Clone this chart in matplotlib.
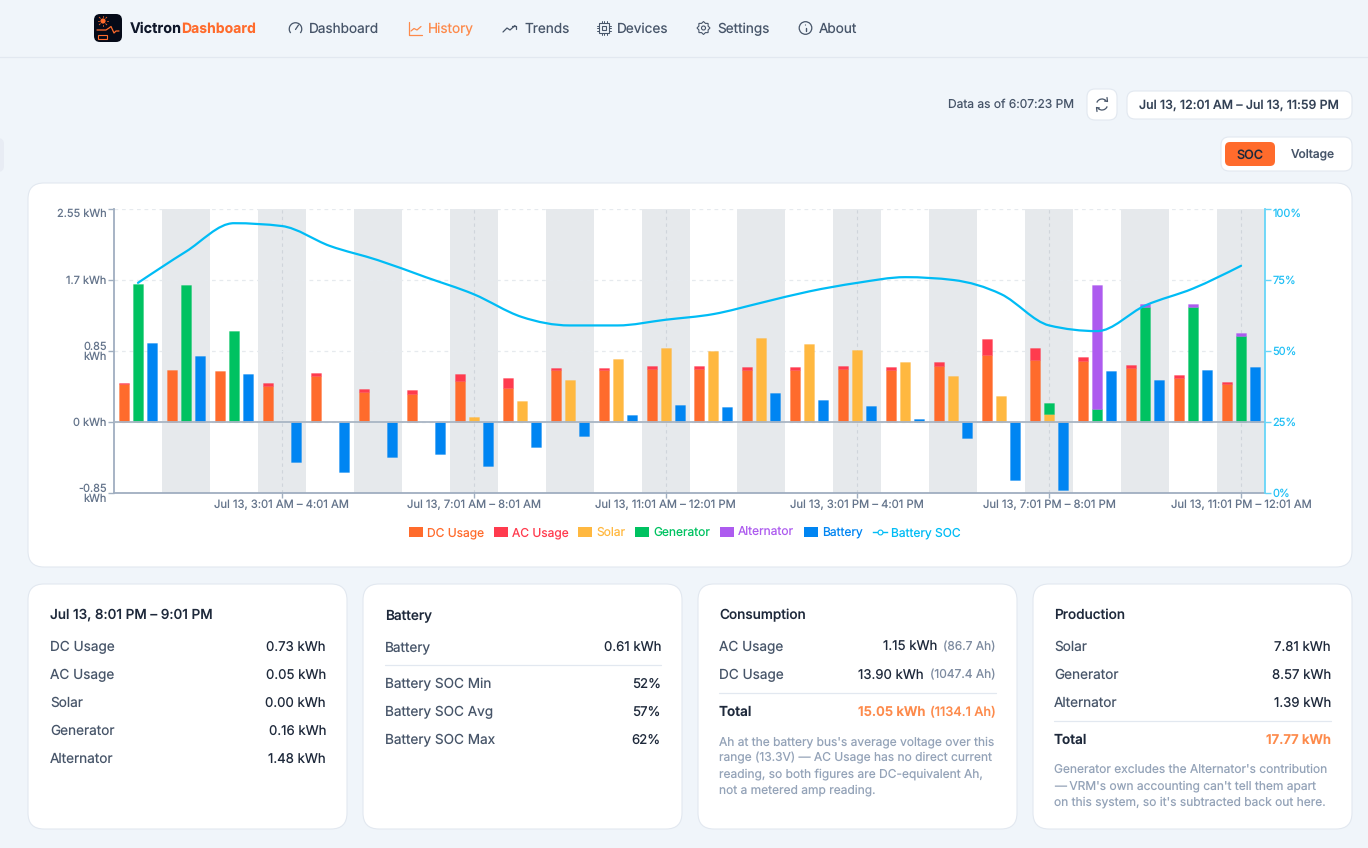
import numpy as np
import matplotlib
matplotlib.use("Agg")
import matplotlib.pyplot as plt
from matplotlib.patches import FancyBboxPatch, Circle, Rectangle, Arc, Patch, PathPatch, Polygon
from matplotlib.lines import Line2D
from matplotlib.path import Path

plt.rcParams['font.family'] = ['Inter', 'Noto Sans', 'DejaVu Sans']
plt.rcParams['text.hinting'] = 'no_hinting'

# data
hours = list(range(24))
dc_usage = [0.46, 0.62, 0.607, 0.427, 0.547, 0.36, 0.34, 0.487, 0.41, 0.62, 0.62, 0.638,
            0.638, 0.626, 0.626, 0.638, 0.626, 0.666, 0.806, 0.746, 0.73, 0.65, 0.53, 0.459]
ac_usage = [0.01, 0, 0, 0.04, 0.044, 0.04, 0.04, 0.084, 0.12, 0.03, 0.03, 0.03,
            0.03, 0.03, 0.03, 0.03, 0.03, 0.052, 0.19, 0.144, 0.05, 0.036, 0.028, 0.02]
solar = [0, 0, 0, 0, 0, 0, 0, 0.056, 0.255, 0.50, 0.758, 0.886,
         0.846, 1.006, 0.938, 0.858, 0.714, 0.547, 0.307, 0.096, 0, 0, 0, 0]
generator = [1.656, 1.636, 1.085, 0, 0, 0, 0, 0, 0, 0, 0, 0,
             0, 0, 0, 0, 0, 0, 0, 0.132, 0.16, 1.377, 1.377, 1.034]
alternator = [0, 0, 0, 0, 0, 0, 0, 0, 0, 0, 0, 0,
              0, 0, 0, 0, 0, 0, 0, 0, 1.48, 0.032, 0.032, 0.036]
battery = [0.94, 0.786, 0.58, -0.483, -0.60, -0.415, -0.383, -0.527, -0.303, -0.168, 0.088, 0.207,
           0.176, 0.347, 0.267, 0.188, 0.04, -0.196, -0.694, -0.814, 0.61, 0.507, 0.626, 0.654]
battery_soc = [74, 85, 95, 94, 87, 82, 76, 70, 62, 59, 59, 61,
               63, 67, 71, 74, 76, 75, 70, 59, 57, 66, 72, 80]

kwh_ticks = [-0.85, 0, 0.85, 1.7, 2.55]
kwh_labels = ["-0.85\nkWh", "0 kWh", "0.85\nkWh", "1.7 kWh", "2.55 kWh"]
soc_ticks = [0, 25, 50, 75, 100]
soc_labels = ["0%", "25%", "50%", "75%", "100%"]
hour_ticks = [3, 7, 11, 15, 19, 23]
hour_labels = ["Jul 13, 3:01 AM – 4:01 AM", "Jul 13, 7:01 AM – 8:01 AM", "Jul 13, 11:01 AM – 12:01 PM",
               "Jul 13, 3:01 PM – 4:01 PM", "Jul 13, 7:01 PM – 8:01 PM", "Jul 13, 11:01 PM – 12:01 AM"]

nav_items = ["Dashboard", "History", "Trends", "Devices", "Settings", "About"]

# colours
BG = "#f0f5fa"
BORDER = "#e2e8f0"
C_DC = "#ff6b2c"
C_AC = "#ff3b4e"
C_SOLAR = "#ffb840"
C_GEN = "#00c261"
C_ALT = "#ad5bef"
C_BATT = "#0085f2"
C_SOC = "#00bcf5"
TXT = "#475569"
DARK = "#1e293b"
MUTED = "#94a3b8"
ORANGE = "#fd8a4b"

fig = plt.figure(figsize=(13.68, 8.48), dpi=100, facecolor=BG)


def px(n):
    return n * 0.72


# page layer, in pixels
bg = fig.add_axes([0, 0, 1, 1], zorder=-1)
bg.set_xlim(0, 1368)
bg.set_ylim(848, 0)
bg.axis("off")


def box(x0, y0, x1, y1, r=8, fc="white", ec=BORDER, lw=0.8):
    bg.add_patch(FancyBboxPatch((x0, y0), x1 - x0, y1 - y0, boxstyle=f"round,pad=0,rounding_size={r}",
                                fc=fc, ec=ec, lw=lw))


def txt(x, y, s, size=13.6, color=TXT, ha="left", weight="normal"):
    # y is the middle of the capitals, baseline keeps a row of text level
    return bg.text(x, y + 0.36 * size, s, fontsize=px(size), color=color, ha=ha, va="baseline", fontweight=weight)


def ln(xs, ys, color=TXT, lw=1.0):
    bg.plot(xs, ys, color=color, lw=lw, solid_capstyle="round", solid_joinstyle="round")


# header
ln([0, 1368], [56.5, 56.5], color=BORDER, lw=0.9)
box(94, 14, 122, 42, r=6, fc="#050a18", ec="none")
bg.add_patch(Circle((103, 21), 2.6, fc=C_DC, ec="none"))
for a in np.deg2rad(range(0, 360, 45)):
    ln([103 + 3.8 * np.cos(a), 103 + 5.4 * np.cos(a)],
       [21 + 3.8 * np.sin(a), 21 + 5.4 * np.sin(a)], color=C_DC, lw=0.6)
ln([97, 106, 109, 111, 114, 116, 119], [30, 30, 28, 26.5, 33, 31, 31], color=C_DC, lw=0.9)
bg.add_patch(Rectangle((98, 35), 9, 4, fc="none", ec=C_DC, lw=0.8))
txt(130, 28, "Victron", size=14.4, color="#0f172a", weight="bold")
txt(181, 28, "Dashboard", size=14, color=C_DC, weight="bold")

nav_x = [309, 428, 524, 617, 717, 819]
for name, x in zip(nav_items, nav_x):
    txt(x, 28, name, color=ORANGE if name == "History" else TXT)

# nav icons
bg.add_patch(Arc((295.5, 29), 12.5, 12.5, theta1=140, theta2=40, color=TXT, lw=0.9))
ln([295.5, 298.5], [29.5, 25], lw=0.9)
ln([409, 409, 422], [22, 34.5, 34.5], color=ORANGE, lw=0.9)
ln([411, 414, 417, 421], [31, 28.5, 30, 26.5], color=ORANGE, lw=0.9)
ln([503, 507, 510, 515], [32, 28, 30, 25.5], lw=0.9)
ln([511.5, 515.5, 515.5], [25.5, 25.5, 29], lw=0.9)
bg.add_patch(Rectangle((599, 23), 10, 10, fc="none", ec=TXT, lw=0.8))
bg.add_patch(Rectangle((602, 26), 4, 4, fc="none", ec=TXT, lw=0.8))
for k in (601.5, 604, 606.5):
    ln([k, k], [21, 23], lw=0.7)
    ln([k, k], [33, 35], lw=0.7)
for k in (25.5, 28, 30.5):
    ln([597, 599], [k, k], lw=0.7)
    ln([609, 611], [k, k], lw=0.7)
bg.add_patch(Circle((703.5, 28), 2, fc="none", ec=TXT, lw=0.8))
gear_a = np.deg2rad(np.arange(0, 360, 22.5))
gear_r = np.where(np.arange(16) % 2 == 0, 6.5, 5)
bg.add_patch(Polygon(np.c_[703.5 + gear_r * np.cos(gear_a), 28 + gear_r * np.sin(gear_a)], fc="none", ec=TXT, lw=0.8))
bg.add_patch(Circle((805.5, 28), 6.3, fc="none", ec=TXT, lw=0.9))
ln([805.5, 805.5], [27.5, 31], lw=1)
bg.add_patch(Circle((805.5, 25), 0.6, fc=TXT, ec="none"))

# top controls
box(-10, 138, 4, 172, r=6, fc="#e8ecf4", ec="none")
txt(1074, 104, "Data as of 6:07:23 PM", size=12, ha="right")
box(1087, 89, 1117, 120, r=8)
bg.add_patch(Arc((1102, 104.5), 11, 11, theta1=200, theta2=320, color=TXT, lw=0.9))
bg.add_patch(Arc((1102, 104.5), 11, 11, theta1=20, theta2=140, color=TXT, lw=0.9))
ln([1107, 1107.5, 1104.5], [97.5, 101.5, 101], lw=0.9)
ln([1097, 1096.5, 1099.5], [111.5, 107.5, 108], lw=0.9)
box(1127, 91, 1352, 119, r=8)
txt(1239, 104, "Jul 13, 12:01 AM – Jul 13, 11:59 PM", size=12.4, color="#334155", ha="center", weight=500)
box(1221, 137, 1352, 171, r=8)
box(1225, 142, 1275, 166, r=5, fc=C_DC, ec="none")
txt(1250, 154, "SOC", size=12.6, color=DARK, ha="center", weight=500)
txt(1312.5, 154, "Voltage", size=12, ha="center", weight=500)

# cards
box(28, 183, 1352, 567, r=16)
for x0 in (28, 363, 698, 1033):
    box(x0, 584, x0 + 319, 829, r=16)


def row(x0, x1, y, label, value, vcolor=DARK, lcolor=TXT):
    txt(x0, y, label, color=lcolor)
    txt(x1, y, value, size=13.2, color=vcolor, ha="right")


txt(50, 614, "Jul 13, 8:01 PM – 9:01 PM", color=DARK, weight=500)
for y, l, v in zip([646, 674, 702, 730, 758],
                   ["DC Usage", "AC Usage", "Solar", "Generator", "Alternator"],
                   ["0.73 kWh", "0.05 kWh", "0.00 kWh", "0.16 kWh", "1.48 kWh"]):
    row(50, 326, y, l, v)

txt(385, 614, "Battery", color=DARK, weight=500)
row(385, 661, 646, "Battery", "0.61 kWh")
ln([385, 661], [664.5, 664.5], color=BORDER, lw=0.9)
for y, l, v in zip([683, 711, 739], ["Battery SOC Min", "Battery SOC Avg", "Battery SOC Max"], ["52%", "57%", "62%"]):
    row(385, 661, y, l, v)

txt(719, 614, "Consumption", color=DARK, weight=500)
row(719, 937, 646, "AC Usage", "1.15 kWh")
txt(996, 646, "(86.7 Ah)", size=12, color="#7d8ba0", ha="right")
row(719, 924, 674, "DC Usage", "13.90 kWh")
txt(996, 674, "(1047.4 Ah)", size=12, color="#7d8ba0", ha="right")
ln([719, 996], [692.5, 692.5], color=BORDER, lw=0.9)
txt(719, 711, "Total", color=DARK, weight=600)
txt(925, 711, "15.05 kWh", size=13.2, color=ORANGE, ha="right", weight=600)
txt(996, 711, "(1134.1 Ah)", size=12.8, color=ORANGE, ha="right", weight=500)
for y, s in zip([741, 757, 773, 789],
                ["Ah at the battery bus's average voltage over this",
                 "range (13.3V) — AC Usage has no direct current",
                 "reading, so both figures are DC-equivalent Ah,",
                 "not a metered amp reading."]):
    txt(719, y, s, size=12, color=MUTED)

txt(1054, 614, "Production", color=DARK, weight=500)
for y, l, v in zip([646, 674, 702], ["Solar", "Generator", "Alternator"], ["7.81 kWh", "8.57 kWh", "1.39 kWh"]):
    row(1054, 1331, y, l, v)
ln([1054, 1331], [720.5, 720.5], color=BORDER, lw=0.9)
txt(1054, 739, "Total", color=DARK, weight=600)
txt(1331, 739, "17.77 kWh", size=13.2, color=ORANGE, ha="right", weight=600)
for y, s in zip([769, 785, 801],
                ["Generator excludes the Alternator's contribution",
                 "— VRM's own accounting can't tell them apart",
                 "on this system, so it's subtracted back out here."]):
    txt(1054, y, s, size=12, color=MUTED)

# chart
ax = fig.add_axes([114 / 1368, (848 - 493) / 848, 1151 / 1368, 284 / 848])
ax.patch.set_alpha(0)
ax.set_xlim(-0.5, 23.5)
ax.set_ylim(-0.85, 2.55)
for i in hours:
    if i % 2 == 1:
        ax.axvspan(i - 0.5, i + 0.5, color="#e6e9ec", lw=0, zorder=0)
ax.grid(True, axis="y", color="#e6eaee", ls=(0, (3, 3)), lw=0.9)
ax.grid(True, axis="x", color="#d0d5db", ls=(0, (3, 3)), lw=0.8)
ax.set_axisbelow(True)

x = np.array(hours)
w = 10 / 47.96
off = 14 / 47.96
dc = np.array(dc_usage)
ac = np.array(ac_usage)
sol = np.array(solar)
gen = np.array(generator)
alt = np.array(alternator)


def bars(xs, vals, bottom, color):
    v = np.asarray(vals)
    keep = v != 0
    ax.bar(xs[keep], v[keep], w, bottom=np.asarray(bottom)[keep], color=color,
           edgecolor=matplotlib.colors.to_rgba(color, 0.3), lw=0.7, zorder=3)


bars(x - off, dc, np.zeros(24), C_DC)
bars(x - off, ac, dc, C_AC)
bars(x, sol, np.zeros(24), C_SOLAR)
bars(x, gen, sol, C_GEN)
bars(x, alt, sol + gen, C_ALT)
bars(x + off, battery, np.zeros(24), C_BATT)
ax.axhline(0, color="#a9b5c4", lw=1.3, zorder=4)

ax.set_yticks(kwh_ticks)
ax.set_yticklabels(kwh_labels, linespacing=0.95)
ax.set_xticks(hour_ticks)
ax.set_xticklabels(hour_labels)
ax.tick_params(axis="y", labelsize=px(11), labelcolor="#64748b", color="#a0aec0", length=4.2, width=1, pad=1)
ax.tick_params(axis="x", labelsize=px(11.25), labelcolor="#64748b", color="#a0aec0", length=3.6, width=1, pad=1)
ax.get_yticklabels()[-1].set_va("top")
for s in ("top", "right"):
    ax.spines[s].set_visible(False)
for s in ("left", "bottom"):
    ax.spines[s].set_color("#a0aec0")
    ax.spines[s].set_linewidth(1.3)

ax2 = ax.twinx()
ax2.set_ylim(0, 100)
ax2.set_yticks(soc_ticks)
ax2.set_yticklabels(soc_labels)
ax2.tick_params(axis="y", labelsize=px(11), labelcolor="#22c0f5", color="#66d5f8", length=4.2, width=1, pad=1)
ax2.get_yticklabels()[-1].set_va("top")
for s in ("top", "left", "bottom"):
    ax2.spines[s].set_visible(False)
ax2.spines["right"].set_color("#66d5f8")
ax2.spines["right"].set_linewidth(1.3)


def monotone_path(xs, ys):
    # same curve as d3 curveMonotoneX, bezier segments between the readings
    xs = np.asarray(xs, float)
    ys = np.asarray(ys, float)
    h = np.diff(xs)
    s = np.diff(ys) / h
    m = np.zeros(len(xs))
    for i in range(1, len(xs) - 1):
        p = (s[i - 1] * h[i] + s[i] * h[i - 1]) / (h[i - 1] + h[i])
        m[i] = (np.sign(s[i - 1]) + np.sign(s[i])) * min(abs(s[i - 1]), abs(s[i]), 0.5 * abs(p))
    m[0] = (3 * s[0] - m[1]) / 2
    m[-1] = (3 * s[-1] - m[-2]) / 2
    verts = [(xs[0], ys[0])]
    codes = [Path.MOVETO]
    for i in range(len(xs) - 1):
        d = h[i] / 3
        verts += [(xs[i] + d, ys[i] + m[i] * d), (xs[i + 1] - d, ys[i + 1] - m[i + 1] * d), (xs[i + 1], ys[i + 1])]
        codes += [Path.CURVE4] * 3
    return Path(verts, codes)


ax2.add_patch(PathPatch(monotone_path(hours, battery_soc), fc="none", ec=C_SOC, lw=1.6, zorder=5, capstyle="round"))

handles = [Patch(fc=C_DC), Patch(fc=C_AC), Patch(fc=C_SOLAR), Patch(fc=C_GEN), Patch(fc=C_ALT), Patch(fc=C_BATT),
           Line2D([], [], color=C_SOC, lw=1, marker="o", ms=3.5, mfc="white", mec=C_SOC, mew=0.8)]
names = ["DC Usage", "AC Usage", "Solar", "Generator", "Alternator", "Battery", "Battery SOC"]
ax2.legend(handles, names, ncol=7, loc="center", bbox_to_anchor=(684.5 / 1368, (848 - 533) / 848),
           bbox_transform=fig.transFigure, frameon=False, fontsize=px(12), handlelength=1.17, handleheight=0.9,
           handletextpad=0.33, columnspacing=0.83, borderpad=0, borderaxespad=0,
           labelcolor=[C_DC, C_AC, C_SOLAR, C_GEN, C_ALT, C_BATT, C_SOC])

fig.savefig("out.png", dpi=100, facecolor=BG)
